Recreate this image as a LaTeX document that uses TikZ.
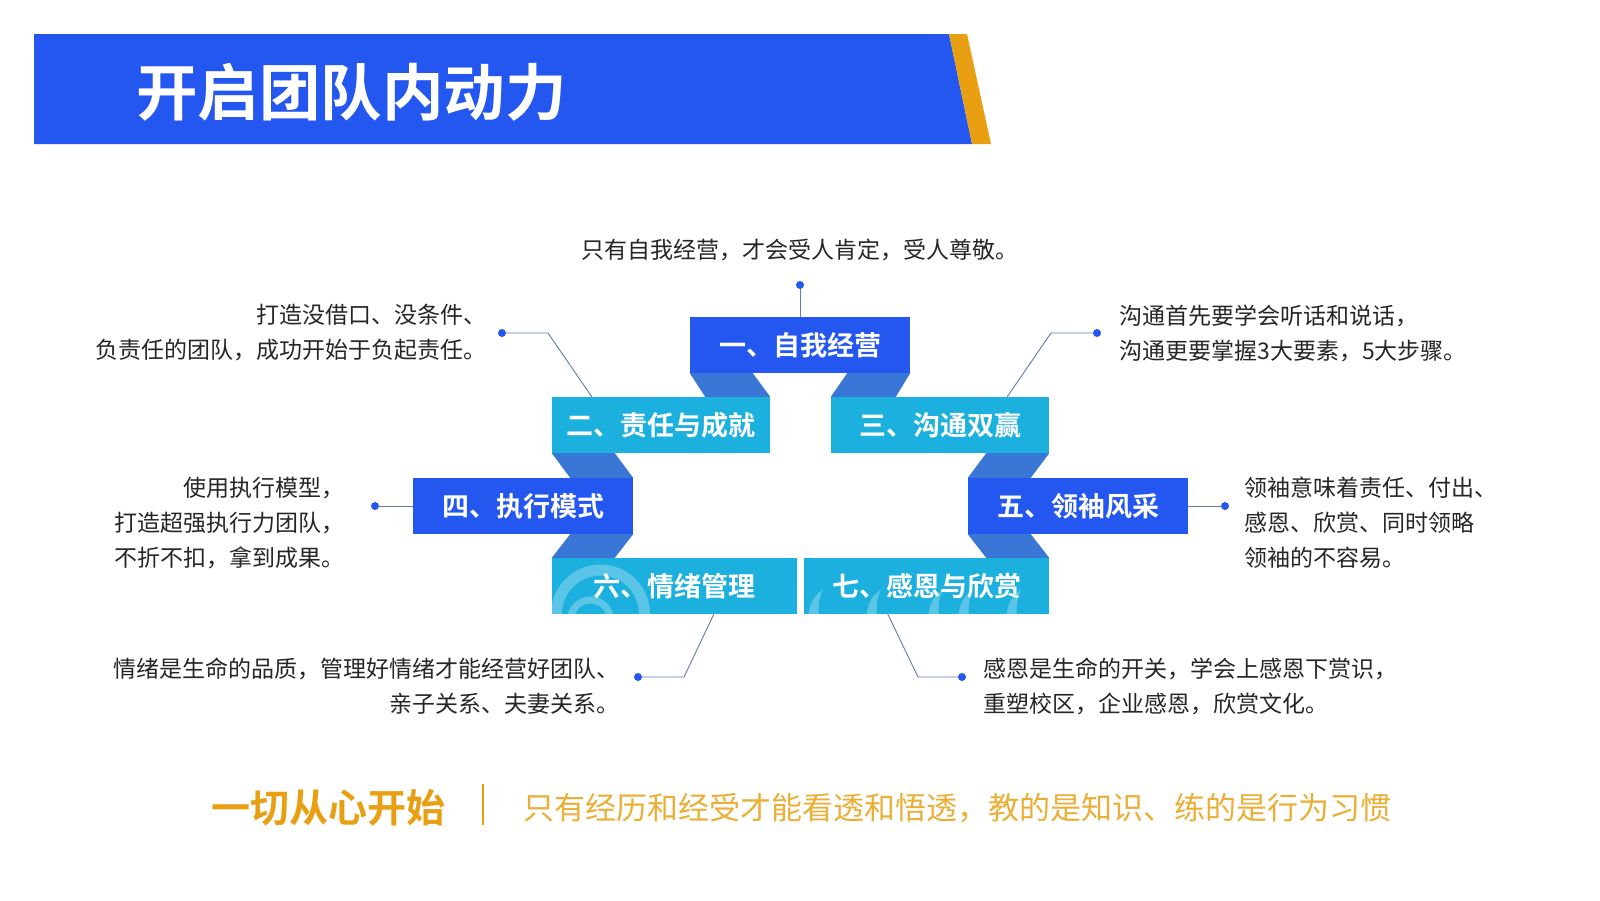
\documentclass[tikz,border=0pt]{standalone}
\usepackage{fontspec}
\setmainfont{Noto Sans CJK SC}[BoldFont={* Bold}]
\usepackage{xcolor}
\usepackage{tikz}
\usetikzlibrary{positioning}
\definecolor{titleblue}{RGB}{36,86,240}
\definecolor{boxcyan}{RGB}{28,176,222}
\definecolor{ribbonblue}{RGB}{58,118,214}
\definecolor{accentgold}{RGB}{232,160,18}
\definecolor{leadgray}{RGB}{96,122,182}
\definecolor{bodytext}{RGB}{38,38,38}

\begin{document}
\begin{tikzpicture}[x=1pt, y=-1pt,
    blk/.style={minimum width=220pt, minimum height=56pt, inner sep=0, text=white, font=\bfseries\fontsize{27}{30}\selectfont},
    dk/.style={blk, fill=titleblue},
    lt/.style={blk, fill=boxcyan},
    ribbon/.style={fill=ribbonblue},
    leadline/.style={draw=leadgray, line width=0.9pt},
    leaddot/.style={circle, fill=titleblue, inner sep=0, minimum size=8pt},
    calltext/.style={text=bodytext, inner sep=0, font=\fontsize{23}{35}\selectfont},
    swirl/.style={draw=white, draw opacity=0.28, line cap=round}]
    \fill[white] (0,0) rectangle (1600,900);
    \useasboundingbox (0,0) rectangle (1600,900);
    % title bar
    \fill[titleblue] (34,34) -- (949,34) -- (972,144) -- (34,144) -- cycle;
    \fill[accentgold] (949,34) -- (967,34) -- (991,144) -- (972,144) -- cycle;
    \node[text=white, font=\bfseries\fontsize{61.5}{66}\selectfont, anchor=west, inner sep=0] (title) at (136,92) {开启团队内动力};
    % blocks
    \node[dk] (s1) at (800,345) {一、自我经营};
    \node[lt, minimum width=218pt] (s2) at (661,425) {二、责任与成就};
    \node[lt, minimum width=218pt] (s3) at (940,425) {三、沟通双赢};
    \node[dk] (s4) at (523,506) {四、执行模式};
    \node[dk] (s5) at (1078,506) {五、领袖风采};
    \node[lt, minimum width=245pt, path picture={
        \draw[swirl, line width=11pt] ([shift={(-74,28)}]path picture bounding box.center) circle (44);
        \draw[swirl, line width=7pt] ([shift={(-84,34)}]path picture bounding box.center) circle (20);
      }] (s6) at (674.5,586) {六、情绪管理};
    \node[lt, minimum width=245pt, path picture={
        \foreach \dx in {-118,-60,2,32,80}
          \fill[white, opacity=0.28] ([shift={(\dx,28)}]path picture bounding box.center) .. controls +(2,-14) and +(-6,4) .. ++(14,-24) .. controls +(-4,10) and +(0,-8) .. ++(-4,24) -- cycle;
      }] (s7) at (926.5,586) {七、感恩与欣赏};
    % folds
    \fill[ribbon] (s1.south west) -- ++(63,0) -- (s2.north east) -- ++(-65,0) -- cycle;
    \fill[ribbon] (s1.south east) -- ++(-63,0) -- (s3.north west) -- ++(65,0) -- cycle;
    \fill[ribbon] (s2.south west) -- ++(63,0) -- (s4.north east) -- ++(-63,0) -- cycle;
    \fill[ribbon] (s3.south east) -- ++(-63,0) -- (s5.north west) -- ++(63,0) -- cycle;
    \fill[ribbon] (s4.south east) -- ++(-63,0) -- (s6.north west) -- ++(63,0) -- cycle;
    \fill[ribbon] (s5.south west) -- ++(63,0) -- (s7.north east) -- ++(-63,0) -- cycle;
    % leaders
    \node[leaddot] (d1) at (800,285) {};
    \node[leaddot] (d2) at (502,333) {};
    \node[leaddot] (d3) at (1097,333) {};
    \node[leaddot] (d4) at (375,506) {};
    \node[leaddot] (d5) at (1225,506) {};
    \node[leaddot] (d6) at (638,677) {};
    \node[leaddot] (d7) at (962,677) {};
    \coordinate (k2) at (548,333);
    \coordinate (k3) at (1051,333);
    \coordinate (k6) at (684,677);
    \coordinate (k7) at (918,677);
    \draw[leadline] (s1.north) -- (d1);
    \draw[leadline] ([xshift=40pt]s2.north west) -- (k2) -- (d2);
    \draw[leadline] ([xshift=-42pt]s3.north east) -- (k3) -- (d3);
    \draw[leadline] (s4.west) -- (d4);
    \draw[leadline] (s5.east) -- (d5);
    \draw[leadline] ([xshift=162pt]s6.south west) -- (k6) -- (d6);
    \draw[leadline] ([xshift=84pt]s7.south west) -- (k7) -- (d7);
    % notes
    \node[calltext, above=20pt of d1] (t1) {只有自我经营，才会受人肯定，受人尊敬。};
    \node[calltext, align=right, left=11pt of d2] (t2) {打造没借口、没条件、\\负责任的团队，成功开始于负起责任。};
    \node[calltext, align=left, right=18pt of d3] (t3) {沟通首先要学会听话和说话，\\沟通更要掌握3大要素，5大步骤。};
    \node[calltext, align=right, left=26pt of d4, yshift=-17pt] (t4) {使用执行模型，\\打造超强执行力团队，\\不折不扣，拿到成果。};
    \node[calltext, align=left, right=15pt of d5, yshift=-17pt] (t5) {领袖意味着责任、付出、\\感恩、欣赏、同时领略\\领袖的不容易。};
    \node[calltext, align=right, left=14pt of d6, yshift=-9pt] (t6) {情绪是生命的品质，管理好情绪才能经营好团队、\\亲子关系、夫妻关系。};
    \node[calltext, align=left, right=17pt of d7, yshift=-9pt] (t7) {感恩是生命的开关，学会上感恩下赏识，\\重塑校区，企业感恩，欣赏文化。};
    % motto
    \node[font=\bfseries\fontsize{39}{42}\selectfont, text=accentgold, anchor=west, inner sep=0] (motto) at (211,808) {一切从心开始};
    \draw[accentgold, line width=2pt] ([xshift=38pt]motto.east) ++(0,-24) -- ++(0,41);
    \node[font=\fontsize{31}{34}\selectfont, text=accentgold!85, inner sep=0, right=78pt of motto] (saying) {只有经历和经受才能看透和悟透，教的是知识、练的是行为习惯};
\end{tikzpicture}
\end{document}
